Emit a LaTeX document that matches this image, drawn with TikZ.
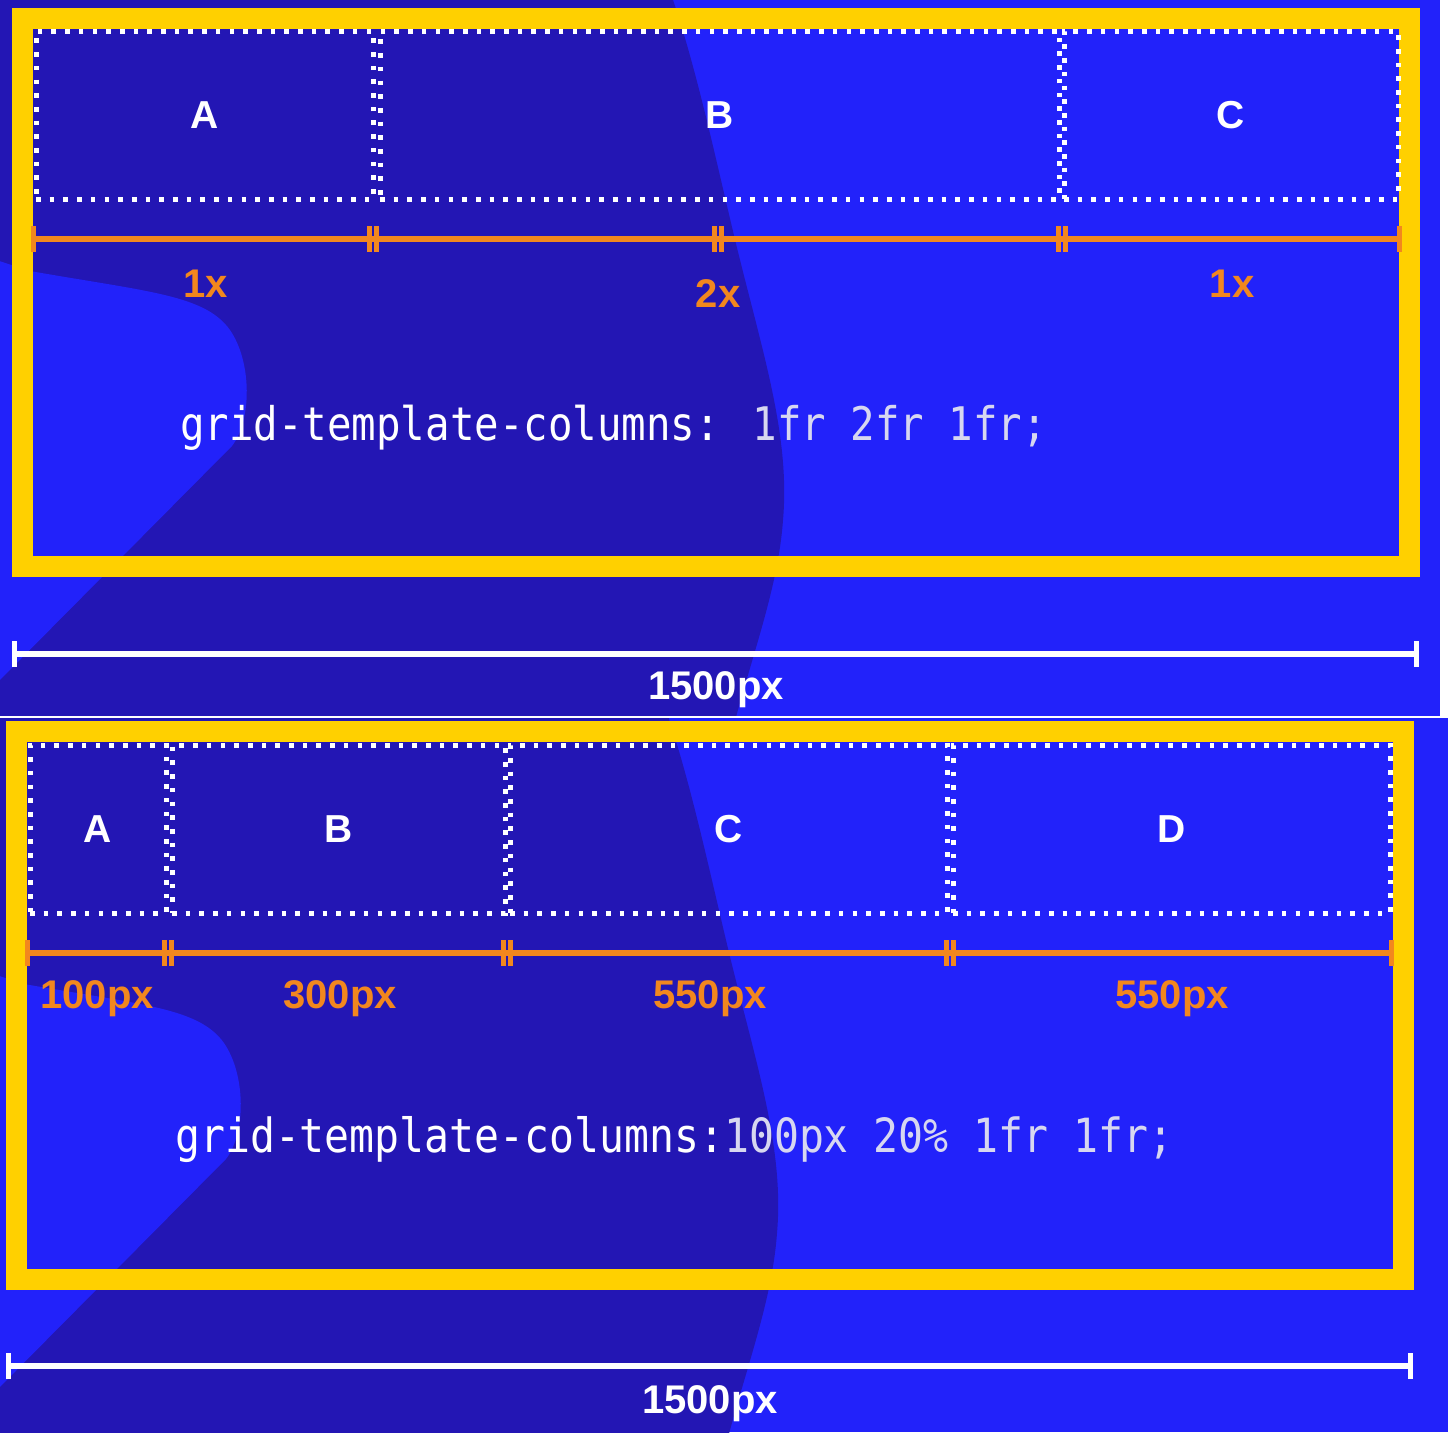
\documentclass[tikz,border=0pt]{standalone}
\usepackage{fontspec}
\setmainfont{Liberation Sans}
\newfontfamily\codefont[FakeStretch=0.88]{DejaVu Sans Mono}
\usetikzlibrary{positioning}
\definecolor{royal}{RGB}{34,34,250}
\definecolor{midnight}{RGB}{35,22,180}
\definecolor{sun}{RGB}{255,208,0}
\definecolor{tangerine}{RGB}{242,135,30}
\definecolor{lilac}{RGB}{215,215,240}
\tikzset{
  panel/.style={draw=sun,line width=21pt},
  cell/.style={draw=white,line width=5pt,dash pattern=on 4.6pt off 9.1pt,inner sep=0pt,
    minimum height=168pt,text=white,font=\fontsize{39}{40}\selectfont\bfseries},
  ruler/.style={draw=tangerine,line width=5.5pt},
  notch/.style={draw=tangerine,line width=5pt},
  fraclabel/.style={text=tangerine,inner sep=0pt,font=\fontsize{40}{42}\selectfont\bfseries},
  widthbar/.style={draw=white,line width=6pt},
  widthlabel/.style={text=white,inner sep=0pt,font=\fontsize{40}{42}\selectfont\bfseries},
  csstext/.style={anchor=base west,inner sep=0pt,text=white,font=\codefont\fontsize{46.3}{48}\selectfont},
  % wavy slide background
  pics/backdrop/.style={code={
    \fill[midnight] (-10,-10) -- (673,-10) -- (673,0) .. controls (700,80) and (720,180) .. (740,260)
      .. controls (765,360) and (790,440) .. (783,520) .. controls (778,590) and (750,660) .. (730,740)
      -- (-10,740) -- cycle;
    \fill[royal] (-10,258) -- (30,271) .. controls (150,292) and (205,295) .. (230,330)
      .. controls (252,362) and (252,420) .. (232,446) -- (-10,690) -- cycle;
  }},
}
\begin{document}
\begin{tikzpicture}[x=1pt,y=-1pt]
  \useasboundingbox (0,0) rectangle (1448,1432);
  \fill[royal] (0,0) rectangle (1448,1432);
  \begin{scope}
    \clip (0,0) rectangle (1440,717);
    \pic at (0,0) {backdrop};
  \end{scope}
  \begin{scope}
    \clip (0,718) rectangle (1448,1432);
    \pic at (-6,713) {backdrop};
  \end{scope}
  \fill[white] (1440,0) rectangle (1448,717);
  \fill[white] (0,716) rectangle (1448,718);

  % first grid: 1fr 2fr 1fr
  \draw[panel] (22.5,18) rectangle (1409.5,566);
  \node[cell,minimum width=337pt] (a) at (204.5,115) {A};
  \node[cell,minimum width=679pt] (b) at (719.5,115) {B};
  \node[cell,minimum width=334pt] (c) at (1231,115) {C};
  \coordinate (r1s) at (33,239);
  \coordinate (r1e) at (1399,239);
  \draw[ruler] (r1s) -- (r1e);
  \foreach \x in {33,1399} \draw[notch] (\x,226) -- (\x,252);
  \foreach \x in {373,718,1062} {
    \draw[notch] (\x-3.5,226) -- (\x-3.5,252);
    \draw[notch] (\x+3.5,226) -- (\x+3.5,252);
  }
  \node[fraclabel] (fa) at (206,284) {1x};
  \node[fraclabel] (fb) at (718,294) {2x};
  \node[fraclabel] (fc) at (1232,284) {1x};
  \node[csstext] (css1) at (180,440) {grid-template-columns: \textcolor{lilac}{1fr 2fr 1fr;}};
  \coordinate (w1s) at (14,654);
  \coordinate (w1e) at (1416,654);
  \draw[widthbar] (w1s) -- (w1e);
  \draw[widthbar,line width=5pt] (14,641) -- (14,667) (1416,641) -- (1416,667);
  \node[widthlabel] (w1) at (716,690) {1500px};

  % second grid: 100px 20% 1fr 1fr
  \draw[panel] (16.5,731) rectangle (1403.5,1279);
  \node[cell,minimum width=136pt] (a2) at (98,829) {A};
  \node[cell,minimum width=333pt] (b2) at (338.5,829) {B};
  \node[cell,minimum width=437pt] (c2) at (728.5,829) {C};
  \node[cell,minimum width=437pt] (d2) at (1171.5,829) {D};
  \coordinate (r2s) at (27,953);
  \coordinate (r2e) at (1391,953);
  \draw[ruler] (r2s) -- (r2e);
  \foreach \x in {27,1391} \draw[notch] (\x,940) -- (\x,966);
  \foreach \x in {168,507,950} {
    \draw[notch] (\x-3.5,940) -- (\x-3.5,966);
    \draw[notch] (\x+3.5,940) -- (\x+3.5,966);
  }
  \node[fraclabel] (pa) at (97,999) {100px};
  \node[fraclabel] (pb) at (340,999) {300px};
  \node[fraclabel] (pc) at (710,999) {550px};
  \node[fraclabel] (pd) at (1172,999) {550px};
  \node[csstext,font=\codefont\fontsize{47.1}{49}\selectfont] (css2) at (175,1152)
    {grid-template-columns:\textcolor{lilac}{100px 20\% 1fr 1fr;}};
  \coordinate (w2s) at (8,1366);
  \coordinate (w2e) at (1410,1366);
  \draw[widthbar] (w2s) -- (w2e);
  \draw[widthbar,line width=5pt] (8,1353) -- (8,1379) (1410,1353) -- (1410,1379);
  \node[widthlabel] (w2) at (710,1404) {1500px};
\end{tikzpicture}
\end{document}
